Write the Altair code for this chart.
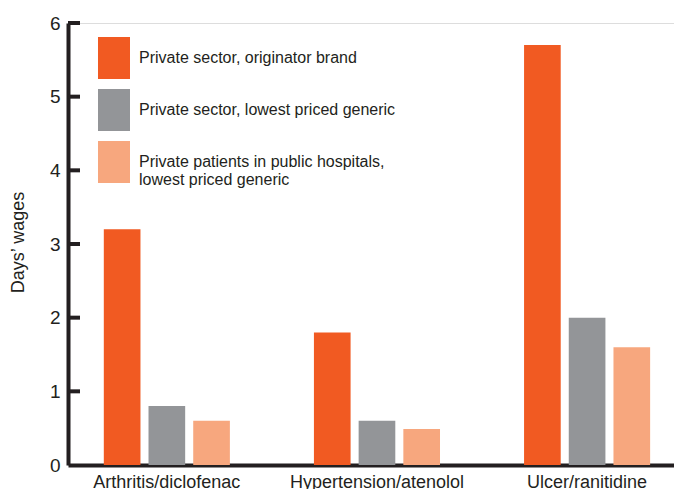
import altair as alt
import pandas as pd

categories = ["Arthritis/diclofenac", "Hypertension/atenolol", "Ulcer/ranitidine"]
series = [
    "Private sector, originator brand",
    "Private sector, lowest priced generic",
    "Private patients in public hospitals, lowest priced generic",
]
originator = [3.2, 1.8, 5.7]
generic = [0.8, 0.6, 2.0]
public_generic = [0.6, 0.49, 1.6]
colors = ["#F15A22", "#939598", "#F7A77E"]
y_ticks = [0, 1, 2, 3, 4, 5, 6]

rows = []
for i, c in enumerate(categories):
    for s, vals in zip(series, [originator, generic, public_generic]):
        rows.append({"category": c, "series": s, "value": vals[i]})
df = pd.DataFrame(rows)
tick_df = pd.DataFrame({"t": y_ticks[1:]})

FONT = "Liberation Sans"
TXT = "#231F20"

label_expr = ("datum.label == 'Private patients in public hospitals, lowest priced generic' ? "
              "['Private patients in public hospitals,', 'lowest priced generic'] : datum.label")

bars = alt.Chart(df).mark_bar().encode(
    x=alt.X("category:N", sort=categories,
            scale=alt.Scale(paddingInner=0.4, paddingOuter=0.142, align=0.6),
            axis=alt.Axis(title=None, labelAngle=0, labelFontSize=18, labelColor=TXT,
                          labelFont=FONT, labelPadding=8, ticks=False, domainWidth=4,
                          domainColor=TXT, labelBaseline="top")),
    xOffset=alt.XOffset("series:N", sort=series,
                        scale=alt.Scale(paddingInner=0.18, paddingOuter=0)),
    y=alt.Y("value:Q", scale=alt.Scale(domain=[0, 6], nice=False),
            axis=alt.Axis(title="Days’ wages", values=y_ticks, format="d", grid=False,
                          ticks=False, tickSize=0, labelPadding=8, labelFontSize=19,
                          labelColor=TXT, labelFont=FONT, domainWidth=4, domainColor=TXT,
                          titleFont=FONT, titleFontSize=18, titleFontWeight="normal",
                          titleColor=TXT, titleX=-50, titleY=219, titleAngle=-90,
                          titleAlign="center", titleBaseline="middle")),
    color=alt.Color("series:N", sort=series,
                    scale=alt.Scale(domain=series, range=colors),
                    legend=alt.Legend(title=None, orient="none", legendX=25, legendY=14,
                                      symbolType="M-0.762,-1L0.762,-1L0.762,1L-0.762,1Z",
                                      symbolSize=1764, symbolStrokeWidth=0,
                                      symbolOpacity=1, labelFontSize=16, labelFont=FONT,
                                      labelColor=TXT, labelOffset=4, rowPadding=10,
                                      labelLimit=400, padding=0, labelExpr=label_expr,
                                      labelBaseline="middle")),
)

ticks = alt.Chart(tick_df).mark_rule(strokeWidth=4, color=TXT).encode(
    y="t:Q", x=alt.value(0), x2=alt.value(12)
)

chart = alt.layer(bars, ticks).properties(
    width=606, height=442,
    autosize=alt.AutoSizeParams(type="none"),
    padding={"left": 60, "top": 15, "right": 0, "bottom": 24},
).configure_view(stroke=None).configure(background="white")

chart.save("out.html", embed_options={"renderer": "svg", "actions": False})
